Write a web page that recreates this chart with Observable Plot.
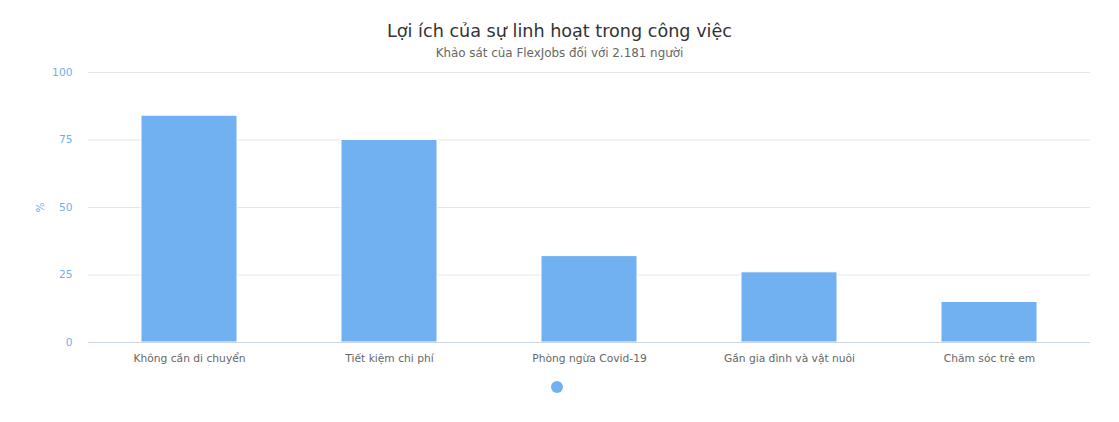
<!DOCTYPE html>
<html>
<head>
<meta charset="utf-8">
<script src="https://cdn.jsdelivr.net/npm/d3@7"></script>
<script src="https://cdn.jsdelivr.net/npm/@observablehq/plot@0.6"></script>
<style>
  body { margin: 0; background: #fff; font-family: "DejaVu Sans", sans-serif; }
  #wrap { position: relative; width: 1119px; height: 422px; overflow: hidden; }
  #title { position: absolute; top: 19px; left: 0; width: 1119px; text-align: center; font-size: 17.6px; color: #333333; line-height: 24px; }
  #subtitle { position: absolute; top: 45px; left: 0; width: 1119px; text-align: center; font-size: 11.9px; color: #666666; line-height: 16px; }
  #chart { position: absolute; top: 60px; left: 0; }
  #legend { position: absolute; top: 381px; left: 551px; width: 12px; height: 12px; border-radius: 50%; background: #71b1f2; }
</style>
</head>
<body>
<div id="wrap">
  <div id="title"></div>
  <div id="subtitle"></div>
  <div id="chart"></div>
  <div id="legend"></div>
</div>
<script>
const titleText = "Lợi ích của sự linh hoạt trong công việc";
const subtitleText = "Khảo sát của FlexJobs đối với 2.181 người";
const categories = ["Không cần di chuyển", "Tiết kiệm chi phí", "Phòng ngừa Covid-19", "Gần gia đình và vật nuôi", "Chăm sóc trẻ em"];
const values = [84, 75, 32, 26, 15];
const yTicks = [0, 25, 50, 75, 100];
const yLabel = "%";

document.getElementById("title").textContent = titleText;
document.getElementById("subtitle").textContent = subtitleText;

const data = categories.map((c, i) => ({category: c, value: values[i]}));

const chart = Plot.plot({
  width: 1119,
  height: 310,
  marginLeft: 88,
  marginRight: 29,
  marginTop: 12,
  marginBottom: 28,
  style: {fontFamily: "DejaVu Sans, sans-serif", background: "#fff"},
  x: {domain: categories, paddingInner: 0.52, paddingOuter: 0.26, label: null},
  y: {domain: [0, 100], label: null},
  marks: [
    Plot.gridY(yTicks, {stroke: "#e6e6e6", strokeOpacity: 1}),
    Plot.barY(data, {x: "category", y: "value", fill: "#71b1f2", stroke: "#ffffff", strokeWidth: 1}),
    Plot.ruleY([0], {stroke: "#ccd6eb"}),
    Plot.axisX({tickSize: 0, tickPadding: 12, fontSize: 10.7, fill: "#666666", label: null}),
    Plot.axisY(yTicks, {tickSize: 0, tickPadding: 16, fontSize: 10.7, fill: "#6faef0", label: null}),
    Plot.axisY({ticks: [], label: yLabel, labelArrow: "none", labelAnchor: "center", labelOffset: 52, fontSize: 10.7, color: "#6faef0", fill: "#6faef0"})
  ]
});
document.getElementById("chart").appendChild(chart);
</script>
</body>
</html>
